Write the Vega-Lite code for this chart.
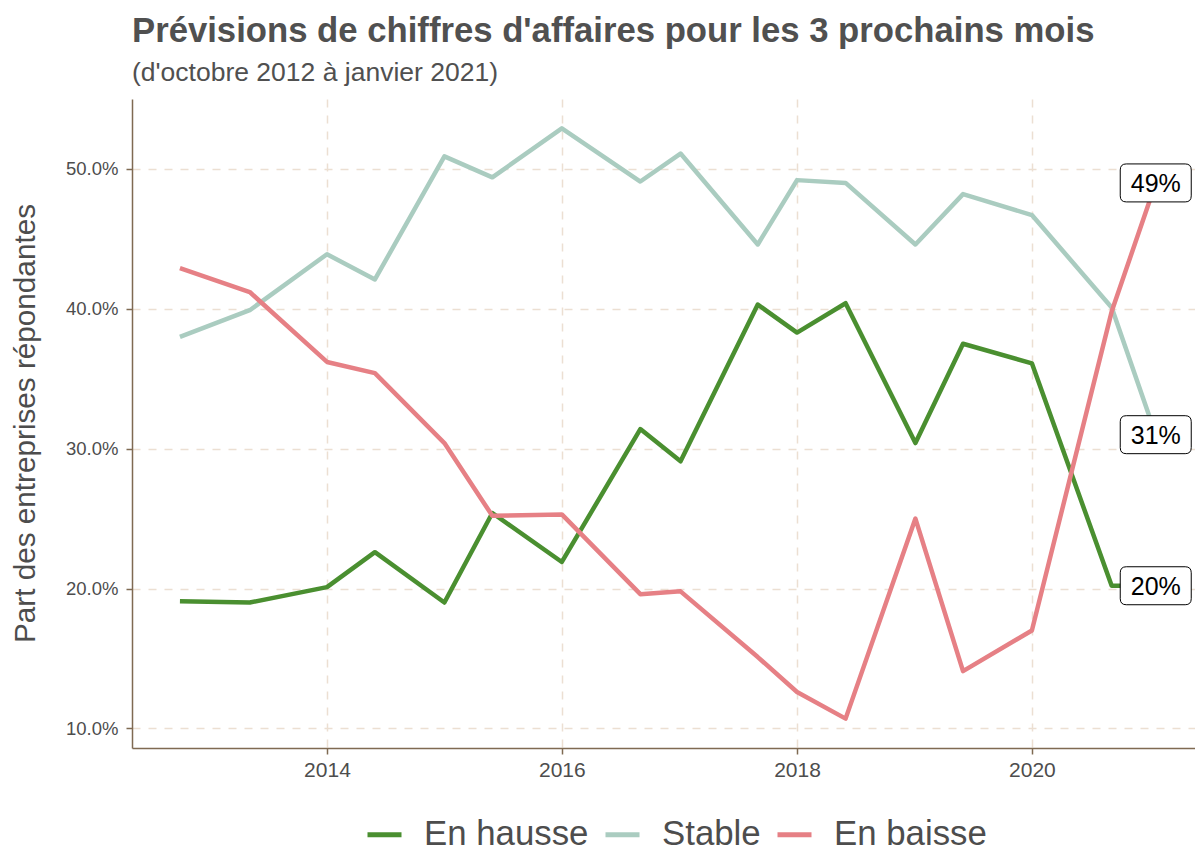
{
  "$schema": "https://vega.github.io/schema/vega-lite/v6.json",
  "autosize": {"type": "none"},
  "padding": {"left": 132, "top": 99, "right": 0, "bottom": 103},
  "width": 1063,
  "height": 649,
  "background": "white",
  "config": {
    "font": "Liberation Sans",
    "view": {"stroke": null},
    "axis": {
      "domainColor": "#7f6a52", "domainWidth": 1.5,
      "tickColor": "#7f6a52", "tickWidth": 1.5, "tickSize": 6,
      "gridColor": "#ecdfd2", "gridDash": [8, 8], "gridWidth": 1.5,
      "labelColor": "#4d4d4d", "labelFont": "Liberation Sans",
      "titleColor": "#4d4d4d", "titleFont": "Liberation Sans", "titleFontWeight": "normal"
    }
  },
  "title": {
    "text": "Prévisions de chiffres d'affaires pour les 3 prochains mois",
    "subtitle": "(d'octobre 2012 à janvier 2021)",
    "anchor": "start",
    "frame": "group",
    "font": "Liberation Sans",
    "fontSize": 34.7,
    "fontWeight": "bold",
    "color": "#505050",
    "subtitleFont": "Liberation Sans",
    "subtitleFontSize": 26.5,
    "subtitleColor": "#505050",
    "subtitlePadding": 10,
    "offset": 12
  },
  "data": {
    "values": [
      {"d": "2012-10-01", "s": "En hausse", "v": 0.191},
      {"d": "2013-05-06", "s": "En hausse", "v": 0.190},
      {"d": "2014-01-01", "s": "En hausse", "v": 0.201},
      {"d": "2014-05-30", "s": "En hausse", "v": 0.226},
      {"d": "2015-01-01", "s": "En hausse", "v": 0.190},
      {"d": "2015-05-30", "s": "En hausse", "v": 0.254},
      {"d": "2016-01-01", "s": "En hausse", "v": 0.219},
      {"d": "2016-09-01", "s": "En hausse", "v": 0.314},
      {"d": "2017-01-04", "s": "En hausse", "v": 0.291},
      {"d": "2017-09-01", "s": "En hausse", "v": 0.403},
      {"d": "2018-01-01", "s": "En hausse", "v": 0.383},
      {"d": "2018-06-01", "s": "En hausse", "v": 0.404},
      {"d": "2019-01-04", "s": "En hausse", "v": 0.304},
      {"d": "2019-06-01", "s": "En hausse", "v": 0.375},
      {"d": "2020-01-01", "s": "En hausse", "v": 0.361},
      {"d": "2020-09-05", "s": "En hausse", "v": 0.202},
      {"d": "2021-01-20", "s": "En hausse", "v": 0.202},
      {"d": "2012-10-01", "s": "Stable", "v": 0.380},
      {"d": "2013-05-06", "s": "Stable", "v": 0.399},
      {"d": "2014-01-01", "s": "Stable", "v": 0.439},
      {"d": "2014-05-30", "s": "Stable", "v": 0.421},
      {"d": "2015-01-01", "s": "Stable", "v": 0.509},
      {"d": "2015-05-30", "s": "Stable", "v": 0.494},
      {"d": "2016-01-01", "s": "Stable", "v": 0.529},
      {"d": "2016-09-01", "s": "Stable", "v": 0.491},
      {"d": "2017-01-04", "s": "Stable", "v": 0.511},
      {"d": "2017-09-01", "s": "Stable", "v": 0.446},
      {"d": "2018-01-01", "s": "Stable", "v": 0.492},
      {"d": "2018-06-01", "s": "Stable", "v": 0.490},
      {"d": "2019-01-04", "s": "Stable", "v": 0.446},
      {"d": "2019-06-01", "s": "Stable", "v": 0.482},
      {"d": "2020-01-01", "s": "Stable", "v": 0.467},
      {"d": "2020-09-05", "s": "Stable", "v": 0.401},
      {"d": "2021-01-20", "s": "Stable", "v": 0.310},
      {"d": "2012-10-01", "s": "En baisse", "v": 0.429},
      {"d": "2013-05-06", "s": "En baisse", "v": 0.412},
      {"d": "2014-01-01", "s": "En baisse", "v": 0.362},
      {"d": "2014-05-30", "s": "En baisse", "v": 0.354},
      {"d": "2015-01-01", "s": "En baisse", "v": 0.304},
      {"d": "2015-05-30", "s": "En baisse", "v": 0.252},
      {"d": "2016-01-01", "s": "En baisse", "v": 0.253},
      {"d": "2016-09-01", "s": "En baisse", "v": 0.196},
      {"d": "2017-01-04", "s": "En baisse", "v": 0.198},
      {"d": "2017-09-01", "s": "En baisse", "v": 0.151},
      {"d": "2018-01-01", "s": "En baisse", "v": 0.126},
      {"d": "2018-06-01", "s": "En baisse", "v": 0.107},
      {"d": "2019-01-04", "s": "En baisse", "v": 0.250},
      {"d": "2019-06-01", "s": "En baisse", "v": 0.141},
      {"d": "2020-01-01", "s": "En baisse", "v": 0.170},
      {"d": "2020-09-05", "s": "En baisse", "v": 0.398},
      {"d": "2021-01-20", "s": "En baisse", "v": 0.490}
    ]
  },
  "encoding": {
    "x": {
      "field": "d", "type": "temporal",
      "scale": {"type": "utc", "domain": [{"year": 2012, "month": 5, "date": 5, "utc": true}, {"year": 2021, "month": 5, "date": 22, "utc": true}]},
      "axis": {
        "title": null,
        "values": [{"year": 2014, "utc": true}, {"year": 2016, "utc": true}, {"year": 2018, "utc": true}, {"year": 2020, "utc": true}],
        "format": "%Y", "formatType": "utc",
        "labelFontSize": 21, "labelPadding": 5
      }
    },
    "y": {
      "field": "v", "type": "quantitative",
      "scale": {"domain": [0.086, 0.55], "nice": false, "zero": false},
      "axis": {
        "title": "Part des entreprises répondantes",
        "values": [0.1, 0.2, 0.3, 0.4, 0.5],
        "format": ".1%",
        "labelFontSize": 18.5, "labelPadding": 8,
        "titleFontSize": 29.7, "titleX": -107, "titleY": 324, "titleAngle": -90, "titleAlign": "center", "titleBaseline": "middle"
      }
    }
  },
  "layer": [
    {
      "mark": {"type": "line", "strokeWidth": 4.5, "strokeJoin": "round"},
      "encoding": {
        "color": {
          "field": "s", "type": "nominal",
          "scale": {"domain": ["En hausse", "Stable", "En baisse"], "range": ["#4a8f30", "#aaccc0", "#e68085"]},
          "legend": {
            "title": null, "orient": "none", "direction": "horizontal",
            "legendX": 233, "legendY": 716,
            "symbolType": "stroke", "symbolSize": 1156, "symbolStrokeWidth": 5,
            "labelFontSize": 34.8, "labelColor": "#4d4d4d", "labelFont": "Liberation Sans",
            "labelLimit": 400,
            "labelOffset": 20, "columnPadding": 6, "padding": 0
          }
        },
        "detail": {"field": "s"}
      }
    },
    {
      "transform": [{"filter": "time(datum.d) > time('2020-12-01')"}],
      "mark": {
        "type": "point", "filled": true, "fill": "white", "stroke": "black", "strokeWidth": 1, "opacity": 1,
        "size": 5041,
        "shape": "M -0.83,-0.535 L 0.83,-0.535 Q 1,-0.535 1,-0.365 L 1,0.365 Q 1,0.535 0.83,0.535 L -0.83,0.535 Q -1,0.535 -1,0.365 L -1,-0.365 Q -1,-0.535 -0.83,-0.535 Z"
      }
    },
    {
      "transform": [{"filter": "time(datum.d) > time('2020-12-01')"}],
      "mark": {"type": "text", "fontSize": 25, "color": "black", "font": "Liberation Sans", "align": "center", "baseline": "middle", "dy": 1},
      "encoding": {
        "text": {"field": "v", "type": "quantitative", "format": ".0%"}
      }
    }
  ]
}
